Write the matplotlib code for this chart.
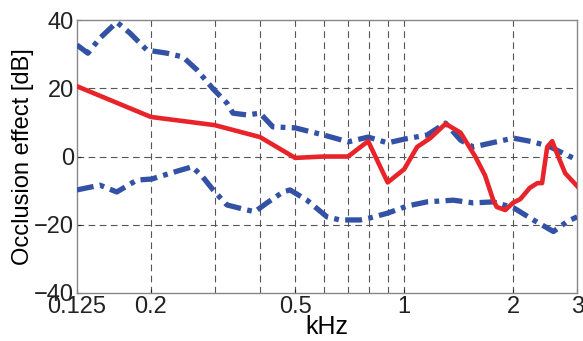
import matplotlib.pyplot as plt

plt.rcParams['font.family'] = ['Liberation Sans', 'DejaVu Sans']

# red curve: measured occlusion effect
red_f = [0.125, 0.2, 0.3, 0.4, 0.5, 0.6, 0.7, 0.795, 0.9, 1.0, 1.085, 1.18, 1.3,
         1.43, 1.57, 1.67, 1.76, 1.80, 1.90, 2.0, 2.09, 2.22, 2.33, 2.40, 2.48,
         2.56, 2.66, 2.78, 3.0]
red_db = [20.6, 11.6, 9.2, 5.7, -0.4, 0.0, 0.0, 4.5, -7.6, -3.7, 2.8, 5.4, 9.6,
          7.0, 0.0, -5.5, -12.8, -14.8, -15.7, -13.5, -12.5, -9.2, -7.8, -7.8, 2.8,
          4.5, 0.0, -4.9, -8.7]

# blue dash-dot: upper bound
upper_f = [0.125, 0.134, 0.1446, 0.161, 0.175, 0.195, 0.2215, 0.245, 0.268, 0.297,
           0.324, 0.337, 0.368, 0.4, 0.434, 0.5, 0.6, 0.7, 0.795, 0.9, 1.0, 1.156,
           1.3, 1.43, 1.55, 1.725, 2.0, 2.27, 2.53, 2.74, 3.0]
upper_db = [32.7, 30.3, 34.7, 39.4, 36.2, 31.2, 30.3, 29.2, 25.4, 19.8,
            15.7, 12.7, 12.2, 12.7, 8.7, 8.4, 6.3, 4.3, 5.7, 4.0, 5.1, 6.3,
            9.8, 4.8, 2.8, 3.9, 5.4, 4.3, 2.8, 1.0, -1.0]

# blue dash-dot: lower bound
lower_f = [0.125, 0.1446, 0.161, 0.183, 0.201, 0.226, 0.260, 0.278, 0.297, 0.324,
           0.359, 0.387, 0.418, 0.463, 0.484, 0.539, 0.612, 0.665, 0.755, 0.805,
           0.9, 1.02, 1.156, 1.364, 1.55, 1.76, 2.0, 2.27, 2.58, 2.82, 3.0]
lower_db = [-9.8, -8.4, -10.4, -6.9, -6.6, -4.9, -3.0, -6.0, -9.8, -14.2,
            -15.4, -16.2, -13.6, -10.4, -9.8, -12.8, -17.7, -18.6, -18.6, -18.0,
            -16.6, -14.5, -13.3, -12.8, -13.6, -13.3, -15.0, -18.6, -22.0, -19.0, -17.7]

grid_x = [0.2, 0.3, 0.4, 0.5, 0.6, 0.7, 0.8, 0.9, 1, 2]
xticks = [0.125, 0.2, 0.5, 1, 2, 3]
xticklabels = ['0.125', '0.2', '0.5', '1', '2', '3']
yticks = [-40, -20, 0, 20, 40]

fig = plt.figure(figsize=(5.83, 3.41), dpi=100)
ax = fig.add_axes([0.132, 0.141, 0.858, 0.800])

blue = '#3352a6'
dashdot = (0, (3.2, 1.2, 0.9, 1.2))
ax.plot(upper_f, upper_db, color=blue, lw=3.8, linestyle=dashdot, zorder=3)
ax.plot(lower_f, lower_db, color=blue, lw=3.8, linestyle=dashdot, zorder=3)
ax.plot(red_f, red_db, color='#e8242a', lw=3.3, zorder=4)

ax.set_xscale('log')
ax.set_xlim(0.125, 3)
ax.set_ylim(-40, 40)

for gx in grid_x:
    ax.axvline(gx, color='#555555', lw=0.8, ls=(0, (6, 4)), zorder=1)
for gy in [-20, 0, 20]:
    ax.axhline(gy, color='#555555', lw=0.8, ls=(0, (6, 4)), zorder=1)

ax.set_xticks(xticks)
ax.set_xticklabels(xticklabels)
ax.xaxis.set_minor_locator(plt.NullLocator())
ax.set_yticks(yticks)
ax.tick_params(labelsize=17, direction='in', length=3, pad=2, colors='#222222')
ax.tick_params(axis='x', pad=2)

for s in ax.spines.values():
    s.set_color('#888888')
    s.set_linewidth(1.0)

ax.set_ylabel('Occlusion effect [dB]', fontsize=17, labelpad=0)
ax.set_xlabel('kHz', fontsize=18, labelpad=-2)

fig.savefig('out.png', dpi=100)
